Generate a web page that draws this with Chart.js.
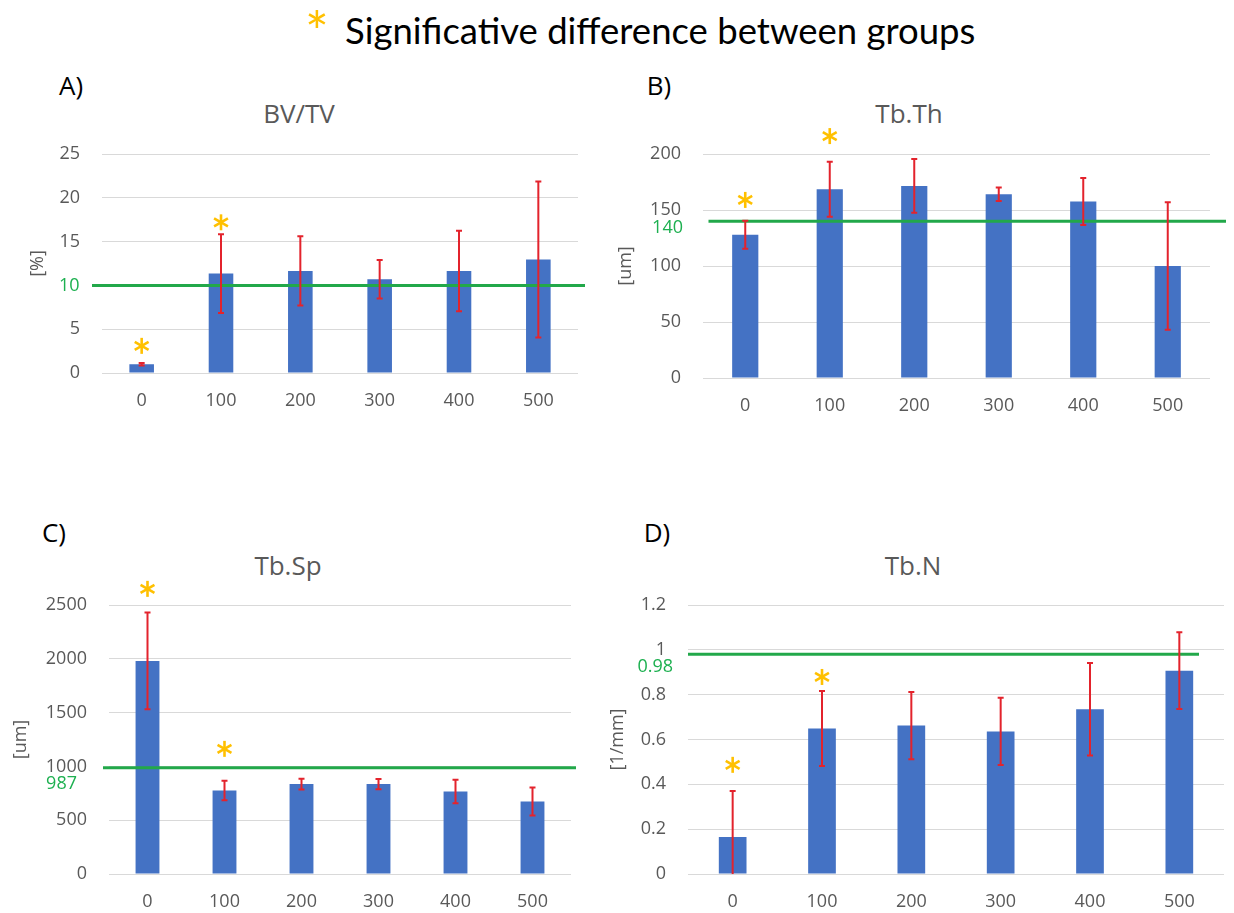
<!DOCTYPE html>
<html lang="en">
<head>
<meta charset="UTF-8">
<title>Bone micro-CT parameters</title>
<script src="https://cdn.jsdelivr.net/npm/chart.js"></script>
<style>
  body { margin: 0; width: 1234px; height: 913px; background: #fff; position: relative; overflow: hidden; font-family: 'Open Sans', sans-serif; }
  canvas { position: absolute; }
  .lbl { position: absolute; transform: translate(-50%, -50%); white-space: nowrap; line-height: 1; }
  .letter { font-size: 26px; color: #000; }
  .title { font-size: 26px; color: #595959; }
  .header { position: absolute; left: 345px; top: 12px; font-family: Lato, sans-serif; font-size: 36.5px; line-height: 1; color: #000; white-space: nowrap; }
  .hstar { position: absolute; left: 305px; top: 3px; font-family: Lato, sans-serif; font-size: 56px; line-height: 1; color: #FFC000; }
</style>
</head>
<body>
<div class="hstar">*</div>
<div class="header">Significative difference between groups</div>

<div class="lbl letter" style="left:71px;top:85px">A)</div>
<div class="lbl letter" style="left:659px;top:85px">B)</div>
<div class="lbl letter" style="left:54px;top:532px">C)</div>
<div class="lbl letter" style="left:657px;top:532px">D)</div>

<div class="lbl title" style="left:299px;top:113px">BV/TV</div>
<div class="lbl title" style="left:909px;top:113px">Tb.Th</div>
<div class="lbl title" style="left:288px;top:565px">Tb.Sp</div>
<div class="lbl title" style="left:913px;top:565px">Tb.N</div>

<canvas id="bvtv"></canvas>
<canvas id="tbth"></canvas>
<canvas id="tbsp"></canvas>
<canvas id="tbn"></canvas>

<script>
const groups = ['0', '100', '200', '300', '400', '500'];

// A) BV/TV [%]
const bvtvMean = [1.0, 11.35, 11.65, 10.7, 11.65, 12.95];
const bvtvErr = [0.15, 4.5, 3.95, 2.2, 4.6, 8.9];
const bvtvStar = [3.1, 17.2, null, null, null, null];
const bvtvRef = 10;
const bvtvTicks = [0, 25, 5];

// B) Tb.Th [um]
const tbthMean = [128, 168.5, 171.5, 164, 157.5, 100];
const tbthErr = [12.5, 24.5, 24, 6, 21, 57];
const tbthStar = [159, 216, null, null, null, null];
const tbthRef = 140;
const tbthTicks = [0, 200, 50];

// C) Tb.Sp [um]
const tbspMean = [1980, 776, 836, 836, 767, 674];
const tbspErr = [450, 90, 50, 48, 110, 130];
const tbspStar = [2650, 1163, null, null, null, null];
const tbspRef = 987;
const tbspTicks = [0, 2500, 500];

// D) Tb.N [1/mm]
const tbnMean = [0.165, 0.649, 0.662, 0.636, 0.735, 0.907];
const tbnErr = [0.205, 0.167, 0.15, 0.15, 0.206, 0.171];
const tbnStar = [0.487, 0.879, null, null, null, null];
const tbnRef = 0.98;
const tbnTicks = [0, 1.2, 0.2];

const BLUE = '#4472C4';
const RED = '#E3232C';
const GREEN = '#22A84A';
const GREEN_TXT = '#1DB050';
const ORANGE = '#FFC000';
const GRAY = '#595959';
const tickFont = { family: "'Open Sans', sans-serif", size: 18 };

function drawStar(ctx, cx, cy) {
    ctx.save();
    ctx.strokeStyle = ORANGE;
    ctx.lineWidth = 2.6;
    const r = 8;
    [90, 30, -30].forEach(deg => {
        const a = deg * Math.PI / 180;
        ctx.beginPath();
        ctx.moveTo(cx - r * Math.cos(a), cy - r * Math.sin(a));
        ctx.lineTo(cx + r * Math.cos(a), cy + r * Math.sin(a));
        ctx.stroke();
    });
    ctx.restore();
}

// reference line, error bars and significance stars
const overlay = {
    id: 'overlay',
    afterDatasetsDraw(chart, args, o) {
        const { ctx, chartArea: a, scales: { x, y } } = chart;
        const ly = y.getPixelForValue(o.ref);
        ctx.save();
        ctx.strokeStyle = GREEN;
        ctx.lineWidth = 3;
        ctx.beginPath();
        ctx.moveTo(a.left + o.lineFrom, ly);
        ctx.lineTo(a.right + o.lineTo, ly);
        ctx.stroke();

        ctx.fillStyle = GREEN_TXT;
        ctx.font = "18px 'Open Sans', sans-serif";
        ctx.textAlign = 'right';
        ctx.textBaseline = 'middle';
        ctx.fillText(String(o.ref), a.left - o.labelGap, ly + o.labelDy);

        ctx.save();
        ctx.beginPath();
        ctx.rect(a.left, a.top, a.width, a.height);
        ctx.clip();
        ctx.strokeStyle = RED;
        ctx.lineWidth = 2;
        o.mean.forEach((m, i) => {
            const px = x.getPixelForValue(i);
            const top = y.getPixelForValue(m + o.err[i]);
            const bot = y.getPixelForValue(m - o.err[i]);
            ctx.beginPath();
            ctx.moveTo(px, top);
            ctx.lineTo(px, bot);
            ctx.moveTo(px - 3, top);
            ctx.lineTo(px + 3, top);
            ctx.moveTo(px - 3, bot);
            ctx.lineTo(px + 3, bot);
            ctx.stroke();
        });
        ctx.restore();

        o.star.forEach((s, i) => {
            if (s !== null) drawStar(ctx, x.getPixelForValue(i), y.getPixelForValue(s));
        });
        ctx.restore();
    }
};

function makePanel(id, box, mean, err, star, ref, ticks, yTitle, hideTick) {
    const cv = document.getElementById(id);
    cv.width = box.w;
    cv.height = box.h;
    cv.style.left = box.x + 'px';
    cv.style.top = box.y + 'px';
    new Chart(cv, {
        type: 'bar',
        data: {
            labels: groups,
            datasets: [{ data: mean, backgroundColor: BLUE, barPercentage: 0.31, categoryPercentage: 1 }]
        },
        options: {
            responsive: false,
            animation: false,
            layout: { padding: { top: box.padTop, right: box.padRight, left: 0, bottom: 0 } },
            plugins: {
                legend: { display: false },
                tooltip: { enabled: false },
                overlay: {
                    ref: ref, mean: mean, err: err, star: star,
                    lineFrom: box.lineFrom, lineTo: box.lineTo,
                    labelGap: box.labelGap, labelDy: box.labelDy
                }
            },
            scales: {
                x: {
                    grid: { display: false, drawTicks: false },
                    border: { display: false },
                    ticks: { color: GRAY, font: tickFont, padding: 17 },
                    afterFit: s => { s.height = 38; }
                },
                y: {
                    min: ticks[0],
                    max: ticks[1],
                    ticks: {
                        stepSize: ticks[2],
                        padding: 22,
                        font: tickFont,
                        color: c => (c.tick && c.tick.value === hideTick) ? 'rgba(0,0,0,0)' : GRAY,
                        callback: v => String(Math.round(v * 100) / 100)
                    },
                    grid: { color: '#D9D9D9', lineWidth: 1, drawTicks: false },
                    border: { display: false },
                    title: { display: true, text: yTitle, color: GRAY, font: tickFont, padding: 0 },
                    afterFit: s => { s.width = box.yw; }
                }
            }
        },
        plugins: [overlay]
    });
}

makePanel('bvtv', { x: 27, y: 120, w: 563, h: 291, padTop: 34, padRight: 12, yw: 75, lineFrom: -10, lineTo: 7, labelGap: 22.5, labelDy: 0 },
    bvtvMean, bvtvErr, bvtvStar, bvtvRef, bvtvTicks, '[%]', 10);
makePanel('tbth', { x: 615, y: 120, w: 613, h: 296, padTop: 34, padRight: 18, yw: 88, lineFrom: 5.5, lineTo: 16, labelGap: 20, labelDy: 6.5 },
    tbthMean, tbthErr, tbthStar, tbthRef, tbthTicks, '[um]', null);
makePanel('tbsp', { x: 10, y: 570, w: 569, h: 342, padTop: 35, padRight: 8, yw: 99, lineFrom: -6, lineTo: 5, labelGap: 32, labelDy: 16 },
    tbspMean, tbspErr, tbspStar, tbspRef, tbspTicks, '[um]', null);
makePanel('tbn', { x: 607, y: 570, w: 623, h: 342, padTop: 35, padRight: 6, yw: 81, lineFrom: 0, lineTo: -25, labelGap: 15, labelDy: 12.6 },
    tbnMean, tbnErr, tbnStar, tbnRef, tbnTicks, '[1/mm]', null);
</script>
</body>
</html>
